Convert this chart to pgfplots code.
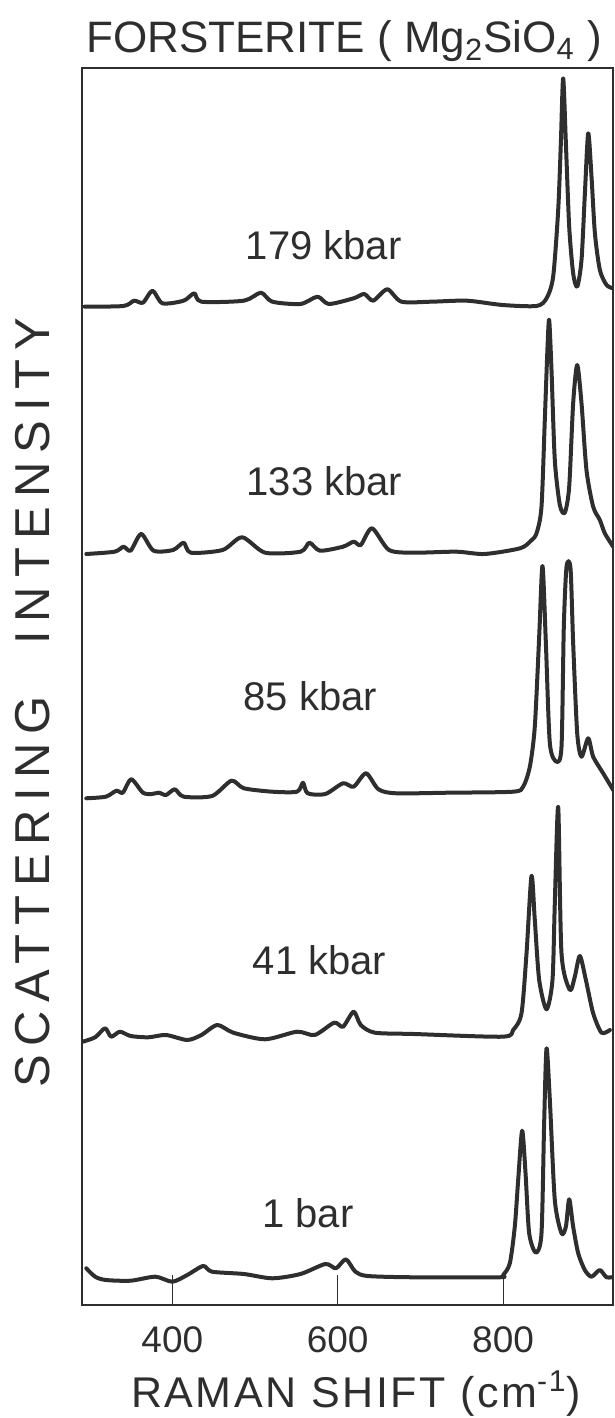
\documentclass[border=0pt]{standalone}
\usepackage{pgfplots}
\pgfplotsset{compat=1.18}
\usepackage{fontspec}
\setmainfont{Liberation Sans}
\newfontfamily\spacedfont[LetterSpace=18]{Liberation Sans}
\newfontfamily\xlabfont[LetterSpace=6]{Liberation Sans}

\definecolor{ink}{HTML}{2E2E2E}

\begin{document}
\begin{tikzpicture}
\begin{axis}[
  name=ax,
  scale only axis,
  width=265.5pt, height=618.5pt,
  xmin=290.7, xmax=933,
  ymin=0, ymax=1237,
  xtick={400,600,800},
  ytick=\empty,
  xtick pos=bottom,
  tick align=inside,
  major tick length=15pt,
  every tick/.style={ink, line width=0.5pt},
  axis line style={ink, line width=1pt},
  /pgf/number format/assume math mode=true,
  x tick label style={font=\fontsize{18.5}{20}\selectfont, text=ink, anchor=base, yshift=-23.5pt},
  clip=true,
  spec/.style={ink, line width=2pt, mark=none, smooth, tension=0.45, line join=round, line cap=round},
]

% 1 bar
\addplot[spec] coordinates {
(295.9,36.7) (306.6,28.3) (319.5,25) (349.5,24.3) (379.4,28.3) (400,23.3)
(418,30) (437.3,39) (448,33.3) (486.5,31) (520.8,26.7) (555,31) (585,41)
(597.9,36.7) (609.9,45.7) (621.4,33.3) (636.4,29) (692.1,27.7) (794.9,27.7)
(800.1,30) (808.2,41.7) (814.2,78.3) (818.3,125) (823.1,174.3) (827.2,131.7)
(831.6,71.7) (839.7,52.3) (846.5,71.7) (849.7,181.7) (852.6,256.7) (856.6,205)
(862.6,105) (870.7,71.7) (876,78.3) (880,105.7) (884.8,78.3) (890.9,51.7)
(898.9,35) (907,28.3) (917.1,35) (925.2,27.7) (935.2,28.3)
};

% 41 kbar
\addplot[spec] coordinates {
(291.6,263.3) (306.6,267.7) (318.6,276.7) (325.9,268.3) (336.6,273.3) (349.5,269)
(370.9,267.7) (392.3,270) (418,265) (435.1,270) (454.4,280) (473.7,272.3)
(512.2,265.7) (550.8,273.3) (572.2,270) (595.7,282.3) (606.4,278.3) (619.3,293.3)
(627.9,280) (645,272.3) (692.1,271) (799.2,268.3) (812.2,275) (822.3,291.7)
(828.4,351.7) (834.4,429) (838.4,385) (843.7,325) (852.6,295.7) (859.8,325)
(862.6,401.7) (866.7,498) (870.7,351.7) (880.8,315) (886.8,328.3) (892.9,349)
(900.2,325) (909,291.7) (919.1,272.3) (929.2,275)
};

% 85 kbar
\addplot[spec] coordinates {
(295.9,506.7) (319.5,508.3) (332.3,514.3) (340,512.3) (350.3,525.7) (364.4,512.3)
(375.2,511) (383.7,512.3) (392.3,510) (403,515.7) (413.7,508.3) (448,509)
(471.5,524.3) (486.5,516.7) (520.8,513.3) (550.8,513.3) (558,522.3) (563.6,511.7)
(585,511) (606.4,521.7) (619.3,518.3) (634.3,531.7) (649.3,515.7) (670.7,511.7)
(734.9,512.3) (812.2,513.3) (824.3,518.3) (832.4,538.3) (838.4,578.3) (843.7,668.3)
(847.7,739) (851.8,661.7) (856.6,561.7) (864.7,543.3) (870.7,558.3) (873.5,678.3)
(876.8,738.3) (881.6,736.7) (884.8,661.7) (889.7,571.7) (894.9,548.3) (903,566.7)
(909,548.3) (921.1,531.7) (933.2,515)
};

% 133 kbar
\addplot[spec] coordinates {
(295.9,751) (330.2,753.3) (340.9,758.3) (349.5,754.3) (362.3,771) (377.3,754.3)
(400.9,755) (413.7,762.3) (422.3,752.3) (460.8,755) (484.4,767.7) (512.2,752.3)
(555,753.3) (565.8,762.3) (578.6,754.3) (606.4,758.3) (619.3,763.3) (627.9,760)
(641.5,776.7) (662.1,755) (692.1,752.3) (743.5,753.3) (777.8,751) (820.6,756.7)
(833.4,764) (840.5,771.7) (846.5,798.3) (850.5,885) (853.8,958.3) (855.8,985)
(858.6,935) (862.6,845) (868.7,800) (874.7,792.3) (880,818.3) (884.8,901.7)
(889.7,940) (894.9,901.7) (900.9,835) (909,798.3) (917.1,785) (923.1,771.7)
(933.2,758.3)
};

% 179 kbar
\addplot[spec] coordinates {
(293.8,998.3) (340.9,999) (353.7,1004.3) (364.4,1002.3) (376,1014.3) (388,1001.7)
(413.7,1004.3) (426.5,1011.7) (435.1,1003.3) (486.5,1004.3) (507.1,1012.3) (520.8,1003.3)
(555,1001) (575.6,1008.3) (589.3,1001) (619.3,1006.7) (632.1,1011) (642.9,1004.3)
(660,1015.7) (677.1,1003.3) (713.5,1003.3) (756.3,1004.3) (799.2,1000) (840.5,999)
(852.6,1006.7) (860.6,1028.3) (866.7,1095) (869.9,1161.7) (872.7,1226.7) (876,1161.7)
(880,1078.3) (884.8,1031.7) (889.7,1018.3) (894.9,1045) (899,1111.7) (903,1171.7)
(907,1128.3) (911.1,1071.7) (917.1,1035) (925.2,1020) (933.2,1016.7)
};

\begin{scope}[every node/.style={font=\fontsize{20}{22}\selectfont, text=ink}]
\node at (axis cs:583,1060) {179 kbar};
\node at (axis cs:584,824) {133 kbar};
\node at (axis cs:567,609) {85 kbar};
\node at (axis cs:578,345) {41 kbar};
\node at (axis cs:564,92) {1 bar};
\end{scope}
\end{axis}

\node[anchor=base, font=\fontsize{22}{24}\selectfont, text=ink]
  at ([xshift=131pt, yshift=7.5pt]ax.north west) {FORSTERITE ( Mg\textsubscript{2}SiO\textsubscript{4} )};
\node[anchor=base, font=\xlabfont\fontsize{21.5}{23}\selectfont, text=ink]
  at ([xshift=137pt, yshift=-51pt]ax.south west) {RAMAN SHIFT (cm\textsuperscript{-1})};
\node[rotate=90, font=\spacedfont\fontsize{24.5}{26}\selectfont, text=ink]
  at ([xshift=-24.5pt, yshift=301pt]ax.south west) {SCATTERING\hspace{0.6em} INTENSITY};

\pgfresetboundingbox
\useasboundingbox ([xshift=-41pt, yshift=-56.5pt]ax.south west) rectangle ([xshift=1pt, yshift=34pt]ax.north east);
\end{tikzpicture}
\end{document}
